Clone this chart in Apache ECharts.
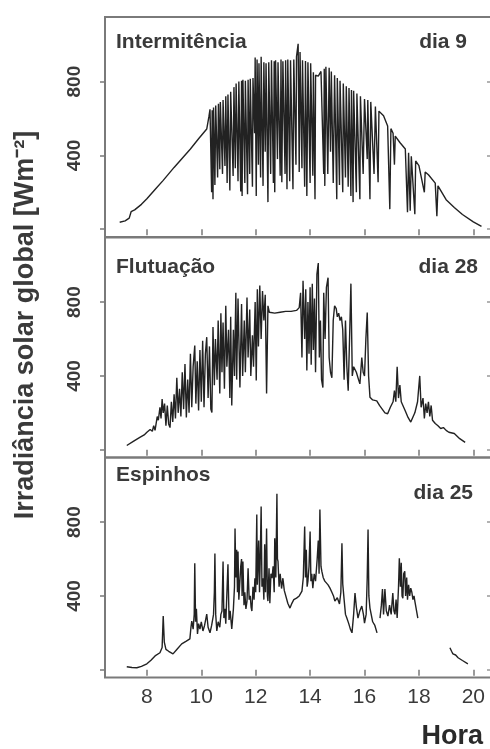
<!DOCTYPE html>
<html>
<head>
<meta charset="utf-8">
<script src="https://cdn.jsdelivr.net/npm/echarts@6/dist/echarts.min.js"></script>
<style>
  html, body { margin: 0; padding: 0; background: #fff; }
  #chart { width: 490px; height: 749px; }
</style>
</head>
<body>
<div id="chart"></div>
<script>
// Global solar irradiance (W m-2) against local hour, three example days.

const hourTicks = [8, 10, 12, 14, 16, 18, 20];
const irrTicks = [0, 400, 800];
const irrLabels = [400, 800];

const panelNames = ['Intermitência', 'Flutuação', 'Espinhos'];
const dayNames = ['dia 9', 'dia 28', 'dia 25'];

// Day 9: intermittent cloud passages
const hoursDia9 = [7.0,7.2,7.35,7.42,7.55,7.8,8.0,8.3,8.6,9.0,9.3,9.6,9.9,10.2,10.28,10.32,
  10.36,10.38,10.4,10.43,10.45,10.5,10.53,10.6,10.63,10.68,10.7,10.78,10.8,10.87,10.9,10.95,10.98,11.05,11.08,
  11.17,11.2,11.25,11.28,11.35,11.38,11.45,11.48,11.5,11.53,11.6,11.62,11.7,11.72,11.78,11.8,11.88,11.9,11.96,
  11.98,12.02,12.05,12.1,12.12,12.18,12.2,12.27,12.3,12.35,12.38,12.45,12.48,12.55,12.58,12.65,12.68,12.7,12.73,
  12.8,12.82,12.9,12.93,12.96,13.0,13.08,13.1,13.15,13.18,13.25,13.28,13.37,13.4,13.48,13.5,13.56,13.6,13.63,
  13.7,13.72,13.8,13.83,13.88,13.92,14.0,14.02,14.1,14.12,14.18,14.2,14.3,14.4,14.5,14.52,14.54,14.58,14.65,
  14.7,14.75,14.78,14.85,14.9,14.98,15.0,15.08,15.1,15.2,15.22,15.3,15.33,15.4,15.43,15.5,15.52,15.58,15.6,
  15.7,15.72,15.83,15.85,15.95,16.0,16.1,16.12,16.2,16.23,16.35,16.4,16.5,16.53,16.6,16.7,16.85,16.93,16.97,
  17.05,17.1,17.13,17.3,17.5,17.58,17.62,17.68,17.72,17.85,17.88,18.0,18.2,18.23,18.35,18.6,18.66,18.7,
  19.0,19.3,19.6,20.0,20.3];
const irrDia9 = [38,45,60,95,105,135,165,215,265,335,385,435,490,543,610,650,
  660,200,645,163,660,240,670,280,680,325,690,300,700,343,720,250,730,210,745,
  288,770,330,790,260,800,205,805,180,810,250,805,190,810,300,815,230,820,520,
  930,180,920,350,900,280,935,235,905,420,900,147,905,300,915,250,910,200,915,
  380,905,290,920,255,910,300,915,217,920,260,915,217,920,350,935,1005,310,960,
  330,915,230,912,180,905,250,900,290,850,163,835,830,855,300,870,235,880,300,
  875,420,855,250,835,163,820,240,805,200,790,280,775,230,765,180,755,147,750,
  200,735,163,720,300,705,380,700,163,690,300,665,255,640,630,615,560,109,545,
  520,350,505,470,435,92,415,100,395,81,370,345,200,310,295,250,70,235,
  160,118,80,40,15];

// Day 28: fluctuating cloudiness
const hoursDia28 = [7.26,7.5,7.74,7.9,8.0,8.05,8.12,8.2,8.25,8.3,8.38,8.42,8.48,8.52,8.56,8.6,8.65,8.7,8.75,8.8,
  8.85,8.9,8.95,9.0,9.05,9.1,9.15,9.2,9.25,9.3,9.35,9.4,9.45,9.5,9.55,9.6,9.65,9.7,9.76,9.8,9.85,9.9,9.95,
  10.0,10.05,10.1,10.15,10.2,10.25,10.3,10.35,10.39,10.43,10.48,10.52,10.58,10.62,10.68,10.72,10.76,10.8,10.85,
  10.9,10.94,11.0,11.05,11.08,11.12,11.18,11.22,11.27,11.3,11.35,11.42,11.48,11.52,11.58,11.62,11.68,11.72,
  11.78,11.82,11.88,11.92,11.98,12.02,12.06,12.1,12.15,12.2,12.25,12.3,12.35,12.4,12.45,12.5,12.7,12.9,13.1,
  13.3,13.5,13.6,13.65,13.7,13.74,13.8,13.84,13.88,13.92,13.96,14.0,14.04,14.08,14.12,14.16,14.2,14.25,14.3,
  14.34,14.38,14.42,14.47,14.5,14.55,14.6,14.66,14.7,14.75,14.8,14.85,14.9,14.96,15.0,15.05,15.1,15.15,15.2,
  15.25,15.3,15.35,15.4,15.45,15.5,15.55,15.6,15.7,15.78,15.83,15.9,15.95,16.0,16.05,16.1,16.15,16.2,16.3,
  16.45,16.55,16.65,16.75,16.85,16.95,17.05,17.1,17.15,17.2,17.25,17.3,17.35,17.4,17.5,17.6,17.7,17.75,17.85,
  17.95,18.03,18.08,18.15,18.2,18.25,18.3,18.35,18.4,18.45,18.5,18.6,18.7,18.8,18.9,19.0,19.1,19.3,19.5,19.7];
const irrDia28 = [23,45,67,80,95,85,110,100,130,105,180,160,230,170,275,200,250,130,240,140,
  120,260,150,300,170,390,200,330,180,420,220,465,175,380,200,520,230,450,565,250,480,213,540,
  260,590,230,520,610,280,560,220,202,665,350,600,380,700,305,740,420,690,330,
  780,450,650,280,720,240,650,400,850,380,820,337,790,400,700,420,825,500,
  760,400,620,450,800,375,870,560,890,600,860,700,840,305,780,745,740,745,750,
  750,755,770,850,500,915,600,870,430,800,520,880,460,900,540,820,420,950,1012,
  500,700,380,337,850,600,880,932,500,420,390,700,780,765,720,740,700,720,650,
  380,700,450,320,600,900,400,450,420,380,357,500,420,400,600,743,400,285,270,
  265,240,220,200,195,230,260,320,260,450,280,350,260,250,210,175,150,142,200,
  260,400,230,280,170,250,200,260,180,240,160,142,130,115,120,105,95,88,60,40,23];

// Day 25: isolated irradiance spikes (null marks missing records)
const hoursDia25 = [
  7.26,7.45,7.63,7.8,8.0,8.15,8.3,8.48,8.56,8.6,
  8.64,8.7,8.8,8.96,9.1,9.28,9.45,9.58,9.62,9.65,
  9.7,9.74,9.76,9.79,9.82,9.86,9.9,9.95,10.0,10.06,
  10.12,10.2,10.25,10.32,10.38,10.45,10.48,10.5,10.53,10.57,
  10.62,10.68,10.72,10.76,10.8,10.83,10.87,10.9,10.94,10.98,
  11.02,11.06,11.12,11.18,11.22,11.24,11.27,11.3,11.33,11.35,
  11.38,11.42,11.45,11.48,11.5,11.53,11.57,11.6,11.64,11.68,
  11.72,11.76,11.8,11.83,11.86,11.9,11.94,11.97,12.0,12.04,
  12.06,12.08,12.11,12.14,12.17,12.2,12.23,12.27,12.3,12.33,
  12.36,12.4,12.43,12.45,12.49,12.52,12.56,12.6,12.64,12.68,
  12.7,12.74,12.78,12.8,12.82,12.86,12.9,12.95,13.0,13.05,
  13.1,13.18,13.26,13.33,13.4,13.5,13.6,13.7,13.75,13.8,
  13.83,13.86,13.89,13.92,13.96,14.0,14.03,14.06,14.1,14.15,
  14.2,14.26,14.3,14.33,14.36,14.4,14.43,14.48,14.54,14.6,
  14.66,14.73,14.8,14.86,14.91,15.0,15.08,15.13,15.17,15.2,
  15.25,15.3,15.35,15.42,15.48,15.54,15.6,15.65,15.7,15.76,
  15.83,15.9,15.96,16.0,16.06,16.1,16.13,16.16,16.2,16.3,
  16.38,16.46,16.52,16.57,16.62,16.66,16.7,16.75,16.8,16.86,
  16.92,16.98,17.04,17.08,17.12,17.16,17.2,17.25,17.28,17.32,
  17.35,17.38,17.41,17.44,17.48,17.51,17.55,17.58,17.62,17.66,
  17.7,17.74,17.78,17.82,17.85,17.9,17.96,18.5,19.14,19.2,
  19.25,19.35,19.44,19.6,19.8];
const irrDia25 = [
  16,12,11,18,32,52,75,92,120,291,
  150,110,100,86,110,140,155,167,230,264,
  220,300,577,260,330,194,250,220,260,210,
  240,302,230,200,240,300,420,630,300,210,
  260,230,300,318,587,280,330,250,248,571,
  270,320,221,330,450,765,500,650,420,641,
  380,388,560,600,400,587,350,420,330,372,
  550,380,400,340,318,450,380,496,420,841,
  460,464,700,420,620,884,450,496,380,680,
  420,765,400,372,550,360,520,496,560,420,
  712,500,954,600,587,450,520,440,496,430,
  420,360,334,360,380,388,400,426,500,776,
  500,650,450,480,560,749,480,520,442,520,
  480,600,700,520,868,560,534,500,480,470,
  460,442,420,400,372,390,356,420,685,464,
  380,300,280,250,220,200,300,415,340,280,
  320,345,300,253,300,500,760,400,334,260,
  240,200,null,280,350,437,300,437,320,291,
  350,300,415,320,300,380,280,450,604,450,
  580,400,388,520,534,400,500,380,460,400,
  442,420,380,400,372,330,280,null,119,100,
  86,80,65,50,32];

const hoursSets = [hoursDia9, hoursDia28, hoursDia25];
const irrSets = [irrDia9, irrDia28, irrDia25];

const fontFamily = '"Liberation Sans", Arial, Helvetica, sans-serif';
const ink = '#3a3a3a';
const frame = '#7a7a7a';

const gridTops = [17, 237.5, 457.5];
const gridHeight = 220;
const gridLeft = 105;
const gridWidth = 389;

const hourMin = 6.46, hourMax = 20.76;
const irrMin = -42, irrMax = 1150;

const grids = [], xAxes = [], yAxes = [], series = [];

gridTops.forEach((top, i) => {
  grids.push({
    left: gridLeft, top: top, width: gridWidth, height: gridHeight,
    outerBoundsMode: 'none', containLabel: false,
    show: true, borderColor: frame, borderWidth: 2, backgroundColor: 'transparent'
  });
  xAxes.push({
    type: 'value', gridIndex: i, min: hourMin, max: hourMax,
    axisLine: { show: false },
    splitLine: { show: false },
    axisTick: { show: true, inside: false, length: 6, customValues: hourTicks,
      lineStyle: { color: frame, width: 1.5 } },
    axisLabel: { show: i === 2, customValues: hourTicks, margin: 9,
      fontFamily: fontFamily, fontSize: 21, color: ink }
  });
  yAxes.push({
    type: 'value', gridIndex: i, position: 'left', min: irrMin, max: irrMax,
    axisLine: { show: false },
    splitLine: { show: false },
    axisTick: { show: true, inside: false, length: 5, customValues: irrTicks,
      lineStyle: { color: frame, width: 1.5 } },
    axisLabel: { show: true, customValues: irrLabels, rotate: 90, margin: 21,
      fontFamily: fontFamily, fontSize: 19, fontWeight: 'bold', color: ink }
  });
  yAxes.push({
    type: 'value', gridIndex: i, position: 'right', min: irrMin, max: irrMax,
    axisLine: { show: false },
    splitLine: { show: false },
    axisTick: { show: true, inside: true, length: 7, customValues: irrTicks,
      lineStyle: { color: '#999', width: 1.5 } },
    axisLabel: { show: false }
  });
  series.push({
    type: 'line', xAxisIndex: i, yAxisIndex: i * 2,
    data: hoursSets[i].map((h, k) => [h, irrSets[i][k]]),
    showSymbol: false, connectNulls: false, smooth: false,
    lineStyle: { color: '#222', width: 1.4 },
    animation: false
  });
});

const graphics = [];
const nameY = [42, 267, 475];
const dayY = [42, 267, 493];
const dayRight = [467, 478, 473];
for (let i = 0; i < 3; i++) {
  graphics.push({
    type: 'text', x: 116, y: nameY[i],
    style: { text: panelNames[i], fontFamily: fontFamily, fontSize: 21, fontWeight: 'bold',
      fill: ink, textAlign: 'left', textVerticalAlign: 'middle' }
  });
  graphics.push({
    type: 'text', x: dayRight[i], y: dayY[i],
    style: { text: dayNames[i], fontFamily: fontFamily, fontSize: 21, fontWeight: 'bold',
      fill: ink, textAlign: 'right', textVerticalAlign: 'middle' }
  });
}
graphics.push({
  type: 'text', x: 26, y: 325, rotation: Math.PI / 2,
  style: { text: 'Irradiância solar global [Wm⁻²]', fontFamily: fontFamily, fontSize: 27,
    fontWeight: 'bold', fill: ink, textAlign: 'center', textVerticalAlign: 'middle' }
});
graphics.push({
  type: 'text', x: 483, y: 737,
  style: { text: 'Hora', fontFamily: fontFamily, fontSize: 27, fontWeight: 'bold',
    fill: '#2a2a2a', textAlign: 'right', textVerticalAlign: 'middle' }
});

const chart = echarts.init(document.getElementById('chart'), null, { renderer: 'canvas' });
chart.setOption({
  animation: false,
  backgroundColor: '#fff',
  grid: grids,
  xAxis: xAxes,
  yAxis: yAxes,
  series: series,
  graphic: graphics
});
</script>
</body>
</html>
